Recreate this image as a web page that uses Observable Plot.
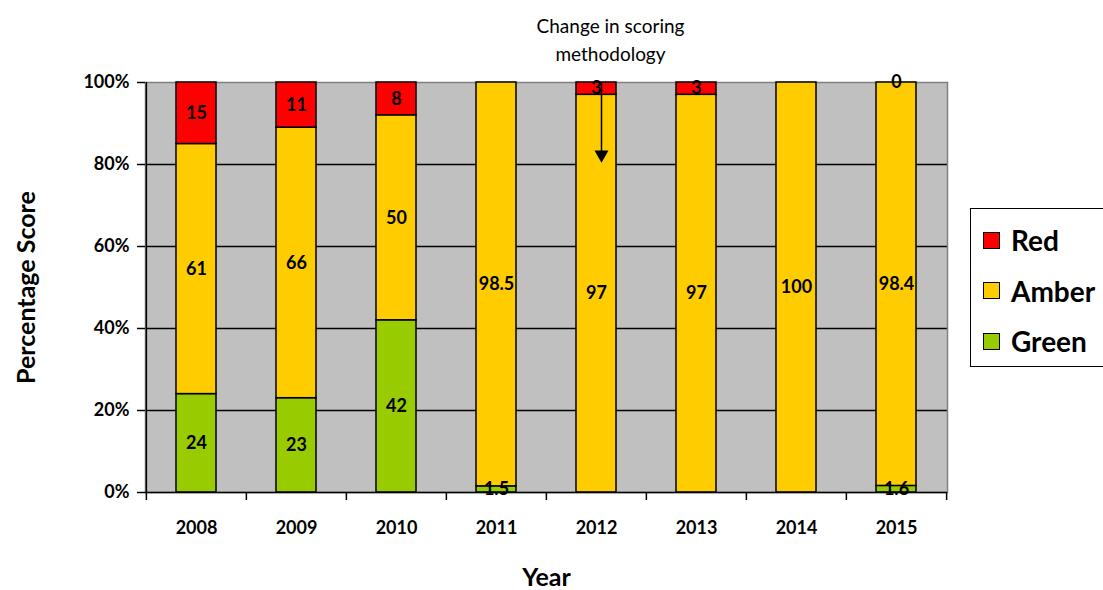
<!DOCTYPE html>
<html>
<head>
<meta charset="utf-8">
<script src="https://cdn.jsdelivr.net/npm/d3@7"></script>
<script src="https://cdn.jsdelivr.net/npm/@observablehq/plot@0.6"></script>
<style>
  html, body { margin: 0; padding: 0; background: #fff; }
  #wrap { position: relative; width: 1103px; height: 590px; font-family: Lato, "Open Sans", sans-serif; }
  #wrap svg { font-family: Lato, "Open Sans", sans-serif; }
  g[aria-label="y-axis label"] text, g[aria-label="x-axis label"] text { font-size: 25px; font-weight: bold; }
  #legend { position: absolute; left: 970px; top: 208px; width: 140px; height: 159px; border: 1.5px solid #000; background: #fff; box-sizing: border-box; }
  #legend .item { position: absolute; left: 12px; display: flex; align-items: center; font-weight: bold; font-size: 28px; line-height: 1; }
  #legend .sw { width: 15px; height: 15px; border: 1.5px solid #000; margin-right: 11px; }
</style>
</head>
<body>
<div id="wrap"></div>
<script>
// Share of assessments in each RAG rating, by year
const years = ["2008", "2009", "2010", "2011", "2012", "2013", "2014", "2015"];
const green = [24, 23, 42, 1.5, null, null, null, 1.6];
const amber = [61, 66, 50, 98.5, 97, 97, 100, 98.4];
const red   = [15, 11, 8, null, 3, 3, null, 0];

const seriesNames = ["Green", "Amber", "Red"];
const seriesColors = ["#99CC00", "#FFCC00", "#FF0000"];
const yTicks = [0, 20, 40, 60, 80, 100];

// Note about the methodology change, pointing at 2012
const noteYear = ["2012"];
const noteText = "Change in scoring\nmethodology";
const arrowFrom = 100;
const arrowTo = 82.4;

const seriesValues = {Green: green, Amber: amber, Red: red};
const rows = [];
for (const s of seriesNames) {
  years.forEach((yr, i) => {
    const v = seriesValues[s][i];
    if (v != null) rows.push({year: yr, series: s, value: v});
  });
}

const chart = Plot.plot({
  width: 1103,
  height: 590,
  marginLeft: 145,
  marginRight: 156,
  marginTop: 82,
  marginBottom: 98,
  x: {domain: years, paddingInner: 0.6, paddingOuter: 0.3, label: null},
  y: {domain: [0, 100], label: null},
  color: {domain: seriesNames, range: seriesColors},
  marks: [
    Plot.frame({fill: "#C0C0C0", stroke: null}),
    Plot.gridY(yTicks.slice(1, -1), {stroke: "#000", strokeOpacity: 1, strokeWidth: 1.5}),
    Plot.frame({stroke: "#808080", strokeWidth: 1.5}),
    Plot.barY(rows, Plot.stackY({
      x: "year", y: "value", fill: "series", order: seriesNames,
      stroke: "#000", strokeWidth: 1.5
    })),
    Plot.text(rows, Plot.stackY({
      x: "year", y: "value", z: "series", order: seriesNames,
      text: d => String(d.value), fill: "#000", fontWeight: "bold", fontSize: 18
    })),
    // axis lines and category boundary ticks
    Plot.ruleY([0], {stroke: "#000", strokeWidth: 1.5}),
    Plot.ruleX(years, {x: d => d, dx: -50.125, y1: 0, y2: 0, insetBottom: -8, stroke: "#000", strokeWidth: 1.5}),
    Plot.ruleX(years.slice(-1), {x: d => d, dx: 50.125, y1: 0, y2: 0, insetBottom: -8, stroke: "#000", strokeWidth: 1.5}),
    Plot.ruleX(years.slice(0, 1), {x: d => d, dx: -50.125, y1: 0, y2: 100, stroke: "#000", strokeWidth: 1.5}),
    Plot.axisY({
      ticks: yTicks, tickFormat: d => d + "%", tickSize: 8, tickPadding: 8,
      fontSize: 18, fontWeight: "bold", strokeWidth: 1.5,
      label: "Percentage Score", labelAnchor: "center", labelArrow: "none", labelOffset: 128
    }),
    Plot.axisX({
      tickSize: 0, tickPadding: 29, fontSize: 18, fontWeight: "bold",
      label: "Year", labelAnchor: "center", labelArrow: "none", labelOffset: 93
    }),
    // methodology note and arrow
    Plot.text(noteYear, {
      x: d => d, y: arrowFrom, text: () => noteText, dx: 14, dy: -22,
      lineAnchor: "bottom", lineHeight: 1.45, fontSize: 19, fill: "#000"
    }),
    Plot.ruleX(noteYear, {x: d => d, y1: arrowFrom, y2: arrowTo, dx: 5, stroke: "#000", strokeWidth: 1.5}),
    Plot.dot(noteYear, {x: d => d, y: arrowTo, dx: 5, symbol: "triangle", r: 5.2, rotate: 180, fill: "#000", stroke: null})
  ]
});

const wrap = document.getElementById("wrap");
wrap.appendChild(chart);

// legend, top to bottom: Red, Amber, Green
const legend = document.createElement("div");
legend.id = "legend";
[...seriesNames].reverse().forEach((name, i) => {
  const color = seriesColors[seriesNames.indexOf(name)];
  const item = document.createElement("div");
  item.className = "item";
  item.style.top = (17 + i * 50.5) + "px";
  const sw = document.createElement("div");
  sw.className = "sw";
  sw.style.background = color;
  item.appendChild(sw);
  item.appendChild(document.createTextNode(name));
  legend.appendChild(item);
});
wrap.appendChild(legend);
</script>
</body>
</html>
